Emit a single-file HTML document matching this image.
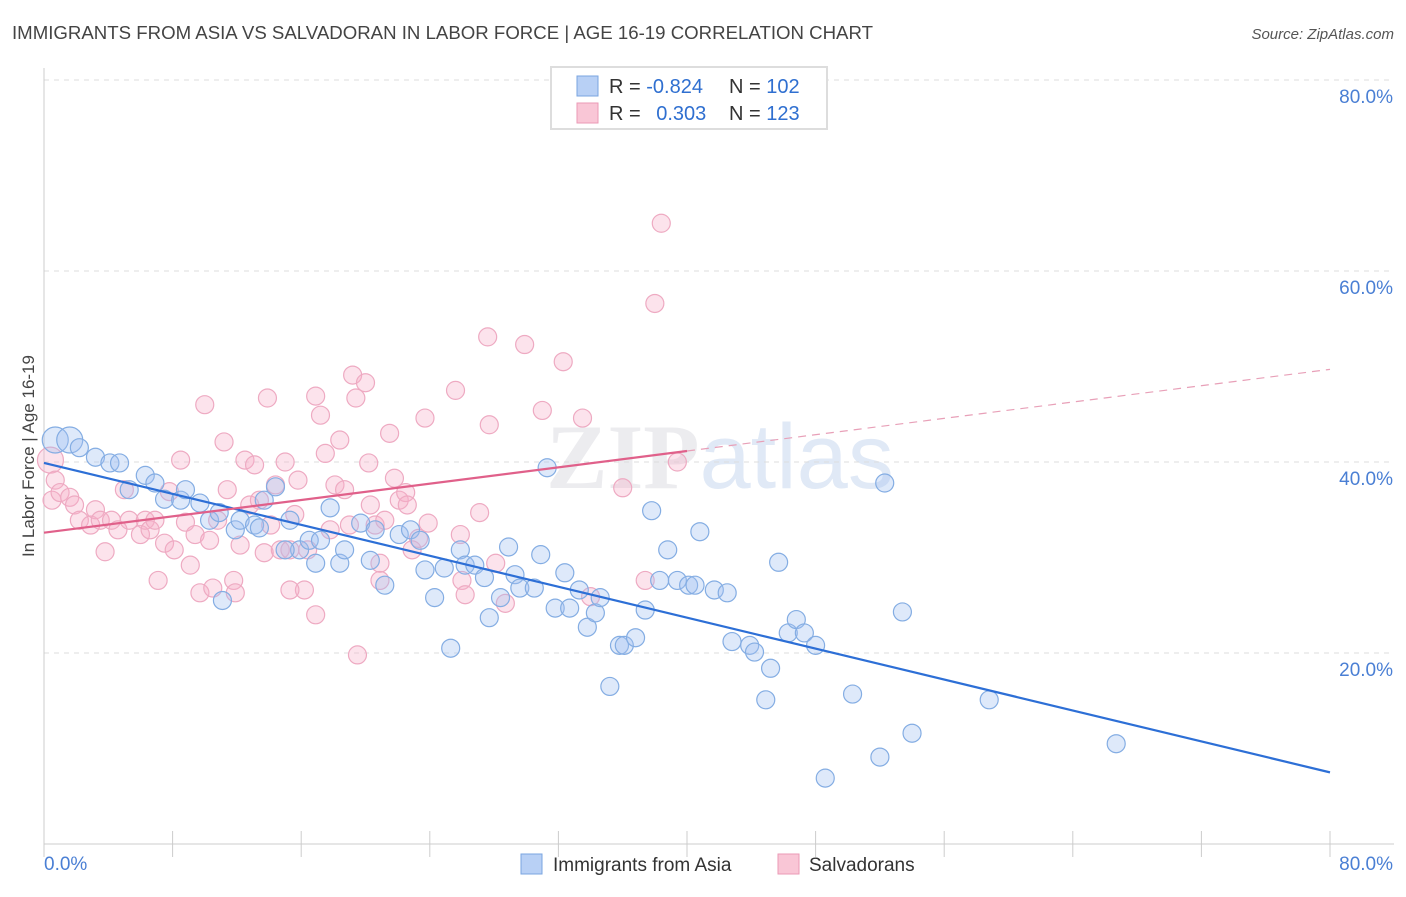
<!DOCTYPE html>
<html><head><meta charset="utf-8"><style>
body{margin:0;background:#fff;font-family:"Liberation Sans",sans-serif;}
svg text{font-family:"Liberation Sans",sans-serif;}
</style></head><body>
<svg id="chart" width="1406" height="892" xmlns="http://www.w3.org/2000/svg">
<text x="12" y="39" font-size="18" fill="#444" textLength="861" lengthAdjust="spacingAndGlyphs">IMMIGRANTS FROM ASIA VS SALVADORAN IN LABOR FORCE | AGE 16-19 CORRELATION CHART</text>
<text x="1394" y="39" font-size="15" fill="#555" text-anchor="end" font-style="italic">Source: ZipAtlas.com</text>
<text transform="translate(34,456) rotate(-90)" font-size="17" fill="#444" text-anchor="middle">In Labor Force | Age 16-19</text>
<text x="720" y="488" font-size="92" text-anchor="middle" fill="#ececef"><tspan font-family="Liberation Serif" font-weight="bold">ZIP</tspan><tspan fill="#e0e9f6">atlas</tspan></text>
<g id="grid"></g><g id="marks"></g>
<g>
<rect x="551" y="67" width="276" height="62" fill="#fff" stroke="#ddd" stroke-width="2"/>
<rect x="577" y="76" width="21" height="20" fill="#b8d0f5" stroke="#7aa5e0"/>
<rect x="577" y="103" width="21" height="20" fill="#f9c6d6" stroke="#eb9ab6"/>
<text x="609" y="93" font-size="20" fill="#333">R = <tspan fill="#2f6fd0">-0.824</tspan></text>
<text x="729" y="93" font-size="20" fill="#333">N = <tspan fill="#2f6fd0">102</tspan></text>
<text x="609" y="120" font-size="20" fill="#333">R = <tspan fill="#2f6fd0" dx="10">0.303</tspan></text>
<text x="729" y="120" font-size="20" fill="#333">N = <tspan fill="#2f6fd0">123</tspan></text>
</g>
<g>
<rect x="521" y="854" width="21" height="20" fill="#b8d0f5" stroke="#7aa5e0"/>
<text x="553" y="871" font-size="19" fill="#333">Immigrants from Asia</text>
<rect x="778" y="854" width="21" height="20" fill="#f9c6d6" stroke="#eb9ab6"/>
<text x="809" y="871" font-size="19" fill="#333">Salvadorans</text>
</g>
</svg>
<script>
const blueX=[0.7,1.6,2.2,3.2,4.1,4.7,6.3,5.3,6.9,7.5,8.5,8.8,9.7,10.3,10.9,11.9,12.2,13.1,13.7,14.4,15.3,15.9,15.0,16.5,17.2,16.9,17.8,18.4,18.7,19.7,20.3,20.6,21.2,22.1,22.8,23.4,23.7,24.3,24.9,25.3,25.9,26.2,26.8,27.4,27.7,28.4,28.9,29.3,29.6,30.5,30.9,31.3,31.8,32.4,32.7,33.3,33.8,34.3,34.6,35.2,35.8,36.1,36.8,37.4,37.8,38.3,38.8,39.4,40.1,40.5,40.8,41.7,42.5,42.8,43.9,44.2,44.9,45.2,45.7,46.3,46.8,47.3,48.0,48.6,50.3,52.0,52.3,53.4,54.0,58.8,66.7,11.1,13.4];
const blueY=[42.3,42.3,41.5,40.5,39.9,39.9,38.6,37.1,37.8,36.1,36.0,37.1,35.7,33.9,34.7,32.9,33.9,33.4,36.0,37.4,33.9,30.8,30.8,31.8,31.8,29.4,35.2,29.4,30.8,33.6,29.7,32.9,27.1,32.4,32.9,31.8,28.7,25.8,28.9,20.5,30.8,29.2,29.2,27.9,23.7,25.8,31.1,28.2,26.8,26.8,30.3,39.4,24.7,28.4,24.7,26.6,22.7,24.2,25.8,16.5,20.8,20.8,21.6,24.5,34.9,27.6,30.8,27.6,27.1,27.1,32.7,26.6,26.3,21.2,20.8,20.1,15.1,18.4,29.5,22.1,23.5,22.1,20.8,6.9,15.7,9.1,37.8,24.3,11.6,15.1,10.5,25.5,33.1];
const pinkX=[0.4,0.7,0.5,1.0,1.6,1.9,2.2,2.9,3.2,3.5,3.8,4.2,4.6,5.0,5.3,6.0,6.3,6.6,6.9,7.1,7.5,7.8,8.1,8.5,8.8,9.1,9.4,9.7,10.0,10.3,10.5,10.8,11.2,11.4,11.8,11.9,12.2,12.5,12.8,13.1,13.4,13.7,13.9,14.1,14.4,14.7,15.0,15.3,15.6,15.8,16.2,16.4,16.9,16.9,17.2,17.5,17.8,18.1,18.4,18.7,19.0,19.2,19.4,20.0,20.2,20.3,20.6,20.9,21.2,21.5,21.8,22.1,22.5,22.6,22.9,23.3,23.7,23.9,25.6,25.9,26.0,26.2,27.1,27.6,27.7,28.1,28.7,29.9,31.0,32.3,33.5,34.0,36.0,37.4,38.0,38.4,39.4,19.5,15.3,20.9];
const pinkY=[40.2,38.1,36.0,36.8,36.3,35.5,33.9,33.4,35.0,33.9,30.6,33.9,32.9,37.1,33.9,32.4,33.9,32.9,33.9,27.6,31.5,36.9,30.8,40.2,33.7,29.2,32.4,26.3,46.0,31.8,26.8,33.9,42.1,37.1,27.6,26.3,31.3,40.2,35.5,39.7,36.0,30.5,46.7,33.4,37.6,30.8,40.0,30.8,34.5,38.1,26.6,30.8,24.0,46.9,44.9,40.9,32.9,37.6,42.3,37.1,33.4,49.1,46.7,48.3,39.9,35.5,33.4,29.4,33.9,43.0,38.3,36.0,36.8,35.5,30.8,32.0,44.6,33.6,47.5,32.4,27.6,26.1,34.7,53.1,43.9,29.4,25.2,52.3,45.4,50.5,44.6,25.9,37.3,27.6,56.6,65.0,40.0,19.8,26.6,27.6];
const yTicks=[20,40,60,80];
const yTickLabels=["20.0%","40.0%","60.0%","80.0%"];
const blueTrend=[39.9,7.5];
const pinkTrend=[32.6,49.7];
const NS="http://www.w3.org/2000/svg";
const xs=v=>44+v*(1330-44)/80;
const ys=v=>844-v*(844-80)/80;
function mk(tag,attrs,parent){const e=document.createElementNS(NS,tag);for(const k in attrs)e.setAttribute(k,attrs[k]);parent.appendChild(e);return e;}
const grid=document.getElementById('grid'),marks=document.getElementById('marks');
yTicks.forEach((t,i)=>{
  const l=mk('line',{x1:44,x2:1394,y1:ys(t),y2:ys(t),stroke:'#ddd','stroke-dasharray':'5,5'},grid);
  
  
  const tx=mk('text',{x:1393,y:ys(t)+23,'font-size':19,fill:'#4a7fd4','text-anchor':'end'},grid);
  tx.textContent=yTickLabels[i];
  
  
});
const ax=mk('line',{x1:44,x2:44,y1:68,y2:844,stroke:'#ccc'},grid);


const bx=mk('line',{x1:44,x2:1394,y1:844,y2:844,stroke:'#ccc'},grid);


for(let v=0;v<=80;v+=8){
  const tk=mk('line',{x1:xs(v),x2:xs(v),y1:831,y2:857,stroke:'#ccc'},grid);
  
  
}
[[0,'0.0%','start',44],[80,'80.0%','end',1393]].forEach(a=>{
  const t=mk('text',{x:a[3],y:870,'font-size':19,fill:'#4a7fd4','text-anchor':a[2]},grid);
  t.textContent=a[1];
  
  
});
pinkX.forEach((x,i)=>{
  const c=mk('circle',{cx:xs(x),cy:ys(pinkY[i]),r:i==0?13:9,fill:'rgba(246,176,200,0.35)',stroke:'#eeaac2','stroke-width':1.2},marks);
  
  
});
blueX.forEach((x,i)=>{
  const c=mk('circle',{cx:xs(x),cy:ys(blueY[i]),r:i<2?13:9,fill:'rgba(160,192,240,0.35)',stroke:'#84ade3','stroke-width':1.2},marks);
  
  
});
const bl=mk('line',{x1:xs(0),y1:ys(blueTrend[0]),x2:xs(80),y2:ys(blueTrend[1]),stroke:'#2d6fd6','stroke-width':2.2},marks);


const pm=pinkTrend[0]+(pinkTrend[1]-pinkTrend[0])*40/80;
const pl=mk('line',{x1:xs(0),y1:ys(pinkTrend[0]),x2:xs(40),y2:ys(pm),stroke:'#e0608a','stroke-width':2.2},marks);


const pd=mk('line',{x1:xs(40),y1:ys(pm),x2:xs(80),y2:ys(pinkTrend[1]),stroke:'#e8a0b8','stroke-width':1.2,'stroke-dasharray':'8,6'},marks);


</script>
</body></html>
